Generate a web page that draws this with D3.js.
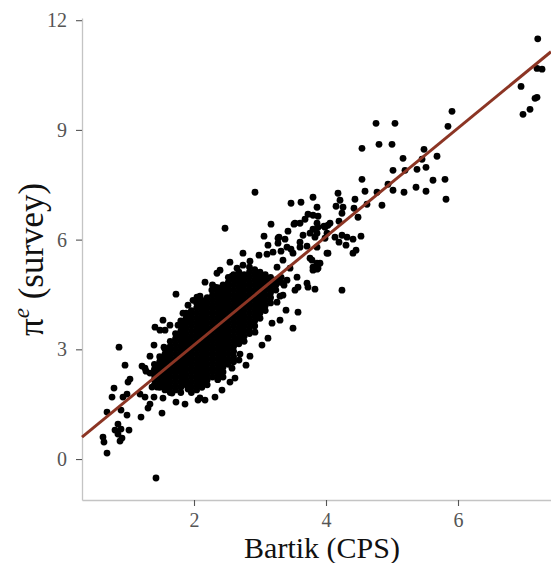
<!DOCTYPE html>
<html>
<head>
<meta charset="utf-8">
<script src="https://cdn.jsdelivr.net/npm/d3@7"></script>
<style>
  body { margin: 0; background: #fff; }
  .axis text { font-family: "Liberation Serif", serif; fill: #555; }
  .axis .domain { stroke: #c4c4c4; stroke-width: 1.3; }
  .axis .tick line { stroke: #555; stroke-width: 1.1; }
  .title { font-family: "Liberation Serif", serif; fill: #111; }
</style>
</head>
<body>
<div id="chart"></div>
<script>
// [bartik, survey] pairs
var lowerTail = [[0.864,3.06],[1.394,3.115],[1.545,3.06],[0.955,2.568],[1.273,2.404],[1.333,2.35],[1.0,2.104],[1.03,2.186],
  [0.788,1.94],[0.758,1.694],[0.924,1.694],[0.985,1.776],[1.182,1.776],[1.258,1.694],[1.394,1.694],[1.364,1.967],[1.439,1.967],
  [1.409,2.24],[1.561,2.104],[1.667,1.803],[1.333,1.503],[1.303,1.393],[0.894,1.339],[0.682,1.284],[1.515,1.257],[0.985,1.202],
  [1.197,1.148],[0.848,0.956],[0.803,0.792],[0.894,0.82],[1.015,0.792],[0.848,0.683],[0.909,0.574],[0.621,0.601],[0.636,0.464],
  [0.879,0.492],[0.682,0.164],[1.424,-0.519],[1.909,1.913],[2.061,1.612],[2.09,1.67],[1.258,2.486],[1.333,2.814],[1.212,2.541]];

var upperEdge = [[1.727,4.508],[1.53,3.798],[1.409,3.607],[1.485,3.525],[1.561,3.525],[1.758,3.661],[1.833,3.989],[2.167,4.836],
  [2.348,5.08],[2.27,4.62],[1.985,4.34],[2.045,4.43],[2.47,6.311],[2.545,5.383],[2.848,5.41],[2.394,5.164],[2.652,5.219],
  [2.742,5.301],[2.742,5.628],[2.985,5.574],[3.106,5.601],[3.197,5.656],[3.318,5.683],[3.121,5.847],[3.273,5.902],[3.061,6.093],
  [3.288,6.066],[3.379,6.011],[3.167,6.421],[3.424,6.23],[2.924,7.295],[1.909,4.208],[2.091,4.454],[2.318,4.699],[2.576,5.0],
  [1.636,3.661],[3.53,6.448],[3.864,6.448],[4.061,6.448],[3.864,6.175],[4.015,6.175],[3.273,6.038],[3.409,5.792],[3.606,5.929],
  [3.864,5.792],[3.758,5.492],[3.864,5.355],[3.803,5.164],[3.5,5.628],[3.348,5.437],[3.258,5.246],[3.455,5.219],[3.561,4.973],
  [3.409,4.891],[3.727,4.699],[3.348,4.481]];

var lowerEdge = [[2.924,3.47],[3.182,3.716],[3.5,3.579],[3.576,4.016],[2.697,2.869],[2.682,2.705],[2.576,2.486],[2.545,2.104],
  [3.258,4.29],[3.303,4.454],[3.364,4.754],[3.53,4.617],[3.576,4.699],[3.712,4.809],[3.833,4.645],[4.242,4.617],
  [2.167,1.612],[2.318,1.694],[2.424,1.885],[2.621,2.213],[2.788,2.568],[2.848,2.814],[3.03,3.115],[3.121,3.306],[3.303,3.798],
  [3.394,4.071],[1.727,1.557],[1.864,1.503],[1.53,1.667]];

var upperCloud = [[3.47,6.995],[3.621,7.022],[3.803,7.158],[3.864,6.885],[3.727,6.694],[3.515,6.421],[3.606,6.448],[3.682,6.557],
  [3.879,6.639],[3.652,6.12],[3.758,6.175],[3.833,6.066],[3.985,6.339],[3.47,5.738],[3.606,5.792],[3.712,5.82],[4.015,5.628],
  [3.788,5.437],[3.879,5.219],[4.182,7.268],[4.439,7.104],[4.621,6.967],[4.848,6.94],[4.212,7.077],[4.152,6.913],[4.258,6.885],
  [4.424,6.858],[3.803,6.667],[4.242,6.721],[4.485,6.612],[4.197,6.503],[4.03,6.393],[3.97,6.366],[3.879,6.339],[3.803,6.284],
  [3.985,6.038],[4.136,6.066],[4.242,6.12],[4.318,6.066],[4.409,6.011],[4.53,6.093],[4.197,5.929],[4.303,5.847],[4.409,5.628],
  [4.455,5.71],[4.03,5.628],[3.909,5.355],[3.864,5.191],[3.803,5.246]];

var upperTail = [[4.758,9.18],[5.045,9.18],[4.545,8.497],[4.803,8.607],[5.0,8.607],[5.485,8.47],[5.682,8.279],[5.167,8.224],
  [5.455,8.197],[5.015,7.896],[5.197,7.896],[5.379,7.923],[5.515,7.978],[4.545,7.65],[5.621,7.623],[5.803,7.65],[4.939,7.514],
  [4.591,7.322],[4.773,7.295],[5.015,7.35],[5.182,7.295],[5.364,7.432],[5.515,7.322],[5.818,7.104],[5.909,9.508],[5.848,9.098],
  [7.208,11.49],[7.197,10.68],[7.273,10.66],[6.955,10.19],[7.197,9.891],[7.167,9.863],[7.091,9.563],[6.985,9.426]];

// the dense core, one list of survey values per bartik column
var cloudX = [1.40,1.48,1.56,1.64,1.72,1.80,1.88,1.96,2.04,2.12,2.20,2.28,2.36,2.44,2.52,2.60,2.68,2.76,2.84,2.92,3.00,3.08,3.16,3.24,3.32];
var cloudY = [
  [2.03,2.17,2.31,2.45,2.59],
  [1.96,2.10,2.24,2.38,2.52,2.66,2.80],
  [1.89,2.03,2.17,2.31,2.45,2.59,2.73,2.87,3.01],
  [1.82,1.96,2.10,2.24,2.38,2.52,2.66,2.80,2.94,3.08,3.22],
  [1.89,2.03,2.17,2.31,2.45,2.59,2.73,2.87,3.01,3.15,3.29,3.43],
  [1.82,1.96,2.10,2.24,2.38,2.52,2.66,2.80,2.94,3.08,3.22,3.36,3.50,3.64,3.78],
  [2.03,2.17,2.31,2.45,2.59,2.73,2.87,3.01,3.15,3.29,3.43,3.57,3.71,3.85,3.99],
  [1.82,1.96,2.10,2.24,2.38,2.52,2.66,2.80,2.94,3.08,3.22,3.36,3.50,3.64,3.78,3.92,4.06],
  [1.89,2.03,2.17,2.31,2.45,2.59,2.73,2.87,3.01,3.15,3.29,3.43,3.57,3.71,3.85,3.99,4.13,4.27],
  [1.96,2.10,2.24,2.38,2.52,2.66,2.80,2.94,3.08,3.22,3.36,3.50,3.64,3.78,3.92,4.06,4.20,4.34],
  [2.03,2.17,2.31,2.45,2.59,2.73,2.87,3.01,3.15,3.29,3.43,3.57,3.71,3.85,3.99,4.13,4.27,4.41],
  [2.24,2.38,2.52,2.66,2.80,2.94,3.08,3.22,3.36,3.50,3.64,3.78,3.92,4.06,4.20,4.34,4.48,4.62,4.76],
  [2.17,2.31,2.45,2.59,2.73,2.87,3.01,3.15,3.29,3.43,3.57,3.71,3.85,3.99,4.13,4.27,4.41,4.55,4.69],
  [2.24,2.38,2.52,2.66,2.80,2.94,3.08,3.22,3.36,3.50,3.64,3.78,3.92,4.06,4.20,4.34,4.48,4.62,4.76],
  [2.59,2.73,2.87,3.01,3.15,3.29,3.43,3.57,3.71,3.85,3.99,4.13,4.27,4.41,4.55,4.69,4.83,4.97],
  [2.66,2.80,2.94,3.08,3.22,3.36,3.50,3.64,3.78,3.92,4.06,4.20,4.34,4.48,4.62,4.76,4.90,5.04],
  [3.15,3.29,3.43,3.57,3.71,3.85,3.99,4.13,4.27,4.41,4.55,4.69,4.83,4.97,5.11],
  [3.22,3.36,3.50,3.64,3.78,3.92,4.06,4.20,4.34,4.48,4.62,4.76,4.90,5.04],
  [3.43,3.57,3.71,3.85,3.99,4.13,4.27,4.41,4.55,4.69,4.83,4.97,5.11,5.25],
  [3.64,3.78,3.92,4.06,4.20,4.34,4.48,4.62,4.76,4.90,5.04,5.18],
  [3.85,3.99,4.13,4.27,4.41,4.55,4.69,4.83,4.97,5.11],
  [4.06,4.20,4.34,4.48,4.62,4.76,4.90,5.04],
  [4.27,4.41,4.55,4.69,4.83,4.97],
  [4.62,4.76,4.90],
  [4.83,4.97]
];

var fitCoef = [0.151, 1.483];   // intercept, slope of the fitted line
var xTicks = [2, 4, 6];
var yTicks = [0, 3, 6, 9, 12];

var points = [].concat(lowerTail, upperEdge, lowerEdge, upperCloud, upperTail);
cloudX.forEach(function(bx, i){
  cloudY[i].forEach(function(sv){ points.push([bx, sv]) })
})

var width = 551, height = 563,
    margin = {top: 18, right: 0, bottom: 63, left: 82};

var svg = d3.select('#chart').append('svg')
  .attr('width', width)
  .attr('height', height)

var x = d3.scaleLinear().domain([0.303, 7.409]).range([margin.left, width - margin.right])
var y = d3.scaleLinear().domain([-1.12, 12.06]).range([height - margin.bottom, margin.top])

svg.append('g')
  .attr('class', 'axis')
  .attr('transform', 'translate(0,' + (height - margin.bottom) + ')')
  .call(d3.axisBottom(x).tickValues(xTicks).tickSize(6).tickSizeOuter(0).tickPadding(7))
  .selectAll('text').style('font-size', '20px')

svg.append('g')
  .attr('class', 'axis')
  .attr('transform', 'translate(' + margin.left + ',0)')
  .call(d3.axisLeft(y).tickValues(yTicks).tickSize(6).tickSizeOuter(0).tickPadding(9))
  .selectAll('text').style('font-size', '20px')

svg.append('g')
  .selectAll('circle')
  .data(points)
  .enter()
  .append('circle')
  .attr('cx', function(d){ return x(d[0]) })
  .attr('cy', function(d){ return y(d[1]) })
  .attr('r', 3.4)
  .attr('fill', '#000')

var fit = d3.line()
  .x(function(d){ return x(d) })
  .y(function(d){ return y(fitCoef[0] + fitCoef[1] * d) })

svg.append('path')
  .datum(x.domain())
  .attr('d', fit)
  .attr('fill', 'none')
  .attr('stroke', '#8c3524')
  .attr('stroke-width', 3)

svg.append('text')
  .attr('class', 'title')
  .attr('x', 322)
  .attr('y', 558)
  .attr('text-anchor', 'middle')
  .style('font-size', '30px')
  .text('Bartik (CPS)')

var ylab = svg.append('text')
  .attr('class', 'title')
  .attr('transform', 'translate(43,336) rotate(-90)')
  .attr('text-anchor', 'start')
  .style('font-size', '35px')
ylab.append('tspan').text('π')
ylab.append('tspan').attr('dy', -14).style('font-size', '23px').style('font-style', 'italic').text('e')
ylab.append('tspan').attr('dy', 14).text(' (survey)')
</script>
</body>
</html>
